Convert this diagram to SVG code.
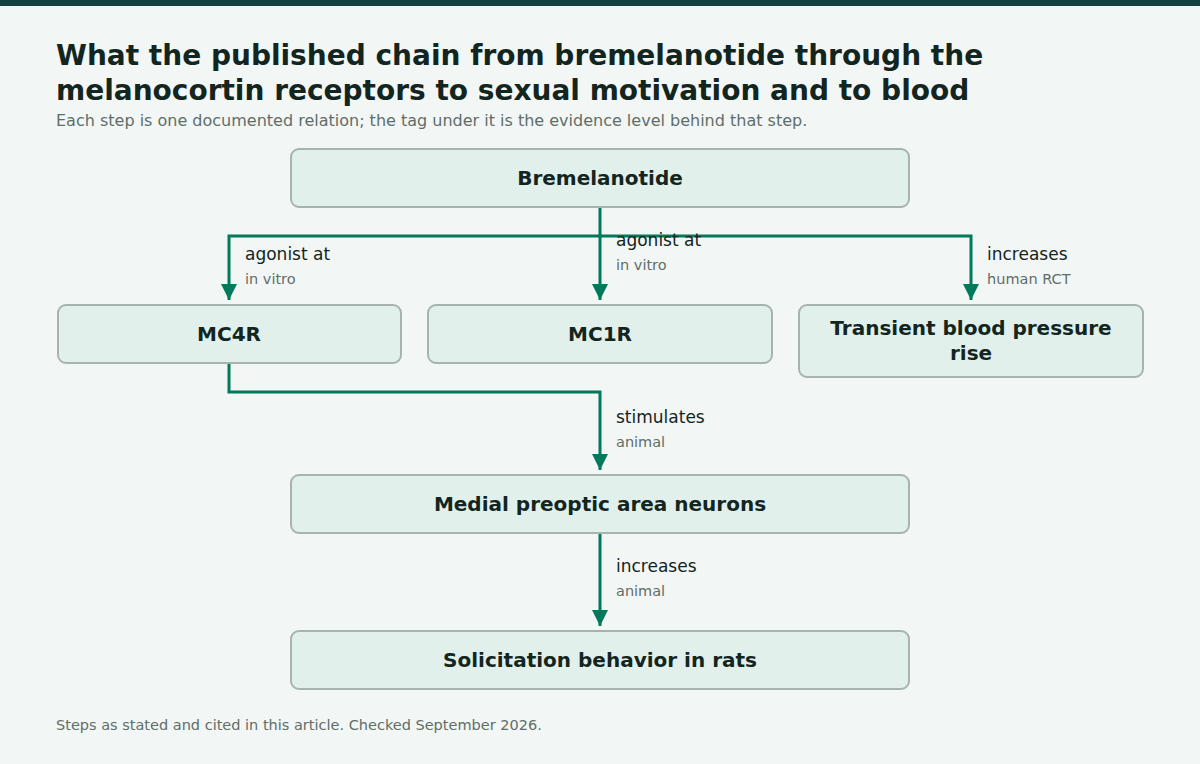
<svg xmlns="http://www.w3.org/2000/svg" width="1200" height="764" viewBox="0 0 1200 764">
<defs>
<style>
.n{fill:#e2f0eb;stroke:#a7b3ae;stroke-width:2}
.nt{font-family:"DejaVu Sans",sans-serif;font-weight:bold;font-size:20px;fill:#13251f;text-anchor:middle}
.c{fill:none;stroke:#007a5a;stroke-width:3}
.l{font-family:"DejaVu Sans",sans-serif;font-size:17px;fill:#13251f}
.t{font-family:"DejaVu Sans",sans-serif;font-size:14.5px;fill:#5f6e69}
</style>
<marker id="a" viewBox="0 0 10 10" refX="10" refY="5" markerWidth="5.5" markerHeight="5.5" orient="auto" markerUnits="strokeWidth"><path d="M0,0L10,5L0,10z" fill="#007a5a"/></marker>
</defs>
<rect width="1200" height="764" fill="#f2f6f5"/>
<rect width="1200" height="6" fill="#123f3f"/>
<text x="56" y="65" font-family="DejaVu Sans,sans-serif" font-weight="bold" font-size="28" fill="#13251f">What the published chain from bremelanotide through the</text>
<text x="56" y="100" font-family="DejaVu Sans,sans-serif" font-weight="bold" font-size="28" fill="#13251f">melanocortin receptors to sexual motivation and to blood</text>
<text x="56" y="126" font-family="DejaVu Sans,sans-serif" font-size="16" fill="#5f6e69">Each step is one documented relation; the tag under it is the evidence level behind that step.</text>
<g id="connectors">
<path class="c" d="M600,207V236H229V300" marker-end="url(#a)"/>
<path class="c" d="M600,236V300" marker-end="url(#a)"/>
<path class="c" d="M600,236H971V300" marker-end="url(#a)"/>
<path class="c" d="M229,363V392H600V470" marker-end="url(#a)"/>
<path class="c" d="M600,533V626" marker-end="url(#a)"/>
<text class="l" x="245" y="260">agonist at</text><text class="t" x="245" y="284">in vitro</text>
<text class="l" x="616" y="246">agonist at</text><text class="t" x="616" y="270">in vitro</text>
<text class="l" x="987" y="260">increases</text><text class="t" x="987" y="284">human RCT</text>
<text class="l" x="616" y="423">stimulates</text><text class="t" x="616" y="447">animal</text>
<text class="l" x="616" y="572">increases</text><text class="t" x="616" y="596">animal</text>
</g>
<g id="bremelanotide"><rect class="n" x="291" y="149" width="618" height="58" rx="8"/><text class="nt" x="600" y="185">Bremelanotide</text></g>
<g id="mc4r"><rect class="n" x="58" y="305" width="343" height="58" rx="8"/><text class="nt" x="229" y="341">MC4R</text></g>
<g id="mc1r"><rect class="n" x="428" y="305" width="344" height="58" rx="8"/><text class="nt" x="600" y="341">MC1R</text></g>
<g id="bp"><rect class="n" x="799" y="305" width="344" height="72" rx="8"/><text class="nt" x="971" y="335">Transient blood pressure</text><text class="nt" x="971" y="360">rise</text></g>
<g id="mpoa"><rect class="n" x="291" y="475" width="618" height="58" rx="8"/><text class="nt" x="600" y="511">Medial preoptic area neurons</text></g>
<g id="solicit"><rect class="n" x="291" y="631" width="618" height="58" rx="8"/><text class="nt" x="600" y="667">Solicitation behavior in rats</text></g>
<text x="56" y="730" font-family="DejaVu Sans,sans-serif" font-size="14.5" fill="#5f6e69">Steps as stated and cited in this article. Checked September 2026.</text>
</svg>
